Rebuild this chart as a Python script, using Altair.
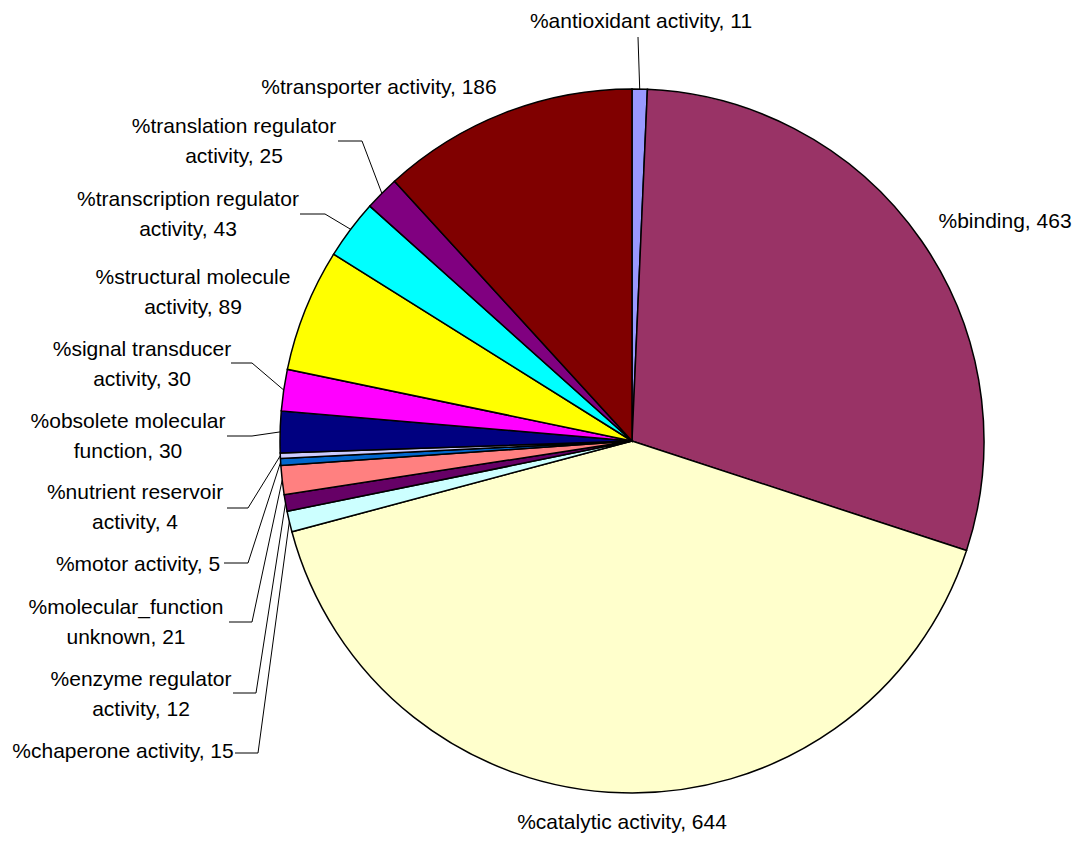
import math
import altair as alt
import pandas as pd

# ---- data ----
CATEGORIES = [
    "antioxidant activity", "binding", "catalytic activity", "chaperone activity",
    "enzyme regulator activity", "molecular_function unknown", "motor activity",
    "nutrient reservoir activity", "obsolete molecular function",
    "signal transducer activity", "structural molecule activity",
    "transcription regulator activity", "translation regulator activity",
    "transporter activity",
]
VALUES = [11, 463, 644, 15, 12, 21, 5, 4, 30, 30, 89, 43, 25, 186]
COLORS = [
    "#9999FF", "#993366", "#FFFFCC", "#CCFFFF", "#660066", "#FF8080", "#0066CC",
    "#CCCCFF", "#000080", "#FF00FF", "#FFFF00", "#00FFFF", "#800080", "#800000",
]
LABEL_LINES = [
    ["%antioxidant activity, 11"],
    ["%binding, 463"],
    ["%catalytic activity, 644"],
    ["%chaperone activity, 15"],
    ["%enzyme regulator", "activity, 12"],
    ["%molecular_function", "unknown, 21"],
    ["%motor activity, 5"],
    ["%nutrient reservoir", "activity, 4"],
    ["%obsolete molecular", "function, 30"],
    ["%signal transducer", "activity, 30"],
    ["%structural molecule", "activity, 89"],
    ["%transcription regulator", "activity, 43"],
    ["%translation regulator", "activity, 25"],
    ["%transporter activity, 186"],
]

# ---- layout (pixels) ----
W, H = 1079, 843
CX, CY, R = 632, 441, 352
LINE_GAP = 29.5
LABEL_POS = [
    (641, 22), (1005, 222), (622, 823), (123, 752), (141, 680), (126, 608),
    (138, 565), (135, 493), (128, 422), (142, 350), (193, 278), (188, 200),
    (234, 127), (379, 88),
]
LEADERS = {
    0: [(638, 37)],
    3: [(235, 753), (258, 753)],
    4: [(233, 693), (256, 693)],
    5: [(229, 622), (252, 622)],
    6: [(224, 563), (248, 563)],
    7: [(227, 508), (248, 508)],
    8: [(227, 436), (252, 436)],
    9: [(231, 363), (252, 363)],
    11: [(300, 214), (325, 214)],
    12: [(338, 141), (362, 141)],
}

pie_df = pd.DataFrame({
    "category": CATEGORIES,
    "value": VALUES,
    "idx": list(range(len(VALUES))),
})

total = sum(VALUES)
cum = 0
mid_angles = []
for v in VALUES:
    mid_angles.append((cum + v / 2) / total * 2 * math.pi)
    cum += v

lead_rows = []
for i, pts in LEADERS.items():
    a = mid_angles[i]
    all_pts = list(pts) + [(CX + R * math.sin(a), CY - R * math.cos(a))]
    for k, (px, py) in enumerate(all_pts):
        lead_rows.append({"category": CATEGORIES[i], "k": k, "x": px, "y": py})
lead_df = pd.DataFrame(lead_rows)

text_rows = []
for i, lines in enumerate(LABEL_LINES):
    lx, ly = LABEL_POS[i]
    for j, t in enumerate(lines):
        text_rows.append({"text": t, "x": lx, "y": ly + j * LINE_GAP})
text_df = pd.DataFrame(text_rows)

xs = alt.Scale(domain=[0, W], nice=False, zero=False)
ys = alt.Scale(domain=[0, H], nice=False, zero=False, reverse=True)

pie = alt.Chart(pie_df).mark_arc(
    outerRadius=R, stroke="black", strokeWidth=1.5
).encode(
    theta=alt.Theta("value:Q", stack=True),
    color=alt.Color("category:N", scale=alt.Scale(domain=CATEGORIES, range=COLORS), legend=None),
    order=alt.Order("idx:Q"),
    x=alt.value(CX),
    y=alt.value(CY),
)

leaders = alt.Chart(lead_df).mark_line(color="black", strokeWidth=1).encode(
    x=alt.X("x:Q", scale=xs, axis=None),
    y=alt.Y("y:Q", scale=ys, axis=None),
    detail="category:N",
    order="k:Q",
)

labels = alt.Chart(text_df).mark_text(
    font="Liberation Sans", fontSize=21, color="black", align="center", baseline="middle"
).encode(
    x=alt.X("x:Q", scale=xs, axis=None),
    y=alt.Y("y:Q", scale=ys, axis=None),
    text="text:N",
)

chart = alt.layer(pie, leaders, labels).properties(
    width=W, height=H, autosize=alt.AutoSizeParams(type="none"), padding=0,
    background="white",
).configure_view(stroke=None)

chart.save("out.html", embed_options={"renderer": "svg", "actions": False})
